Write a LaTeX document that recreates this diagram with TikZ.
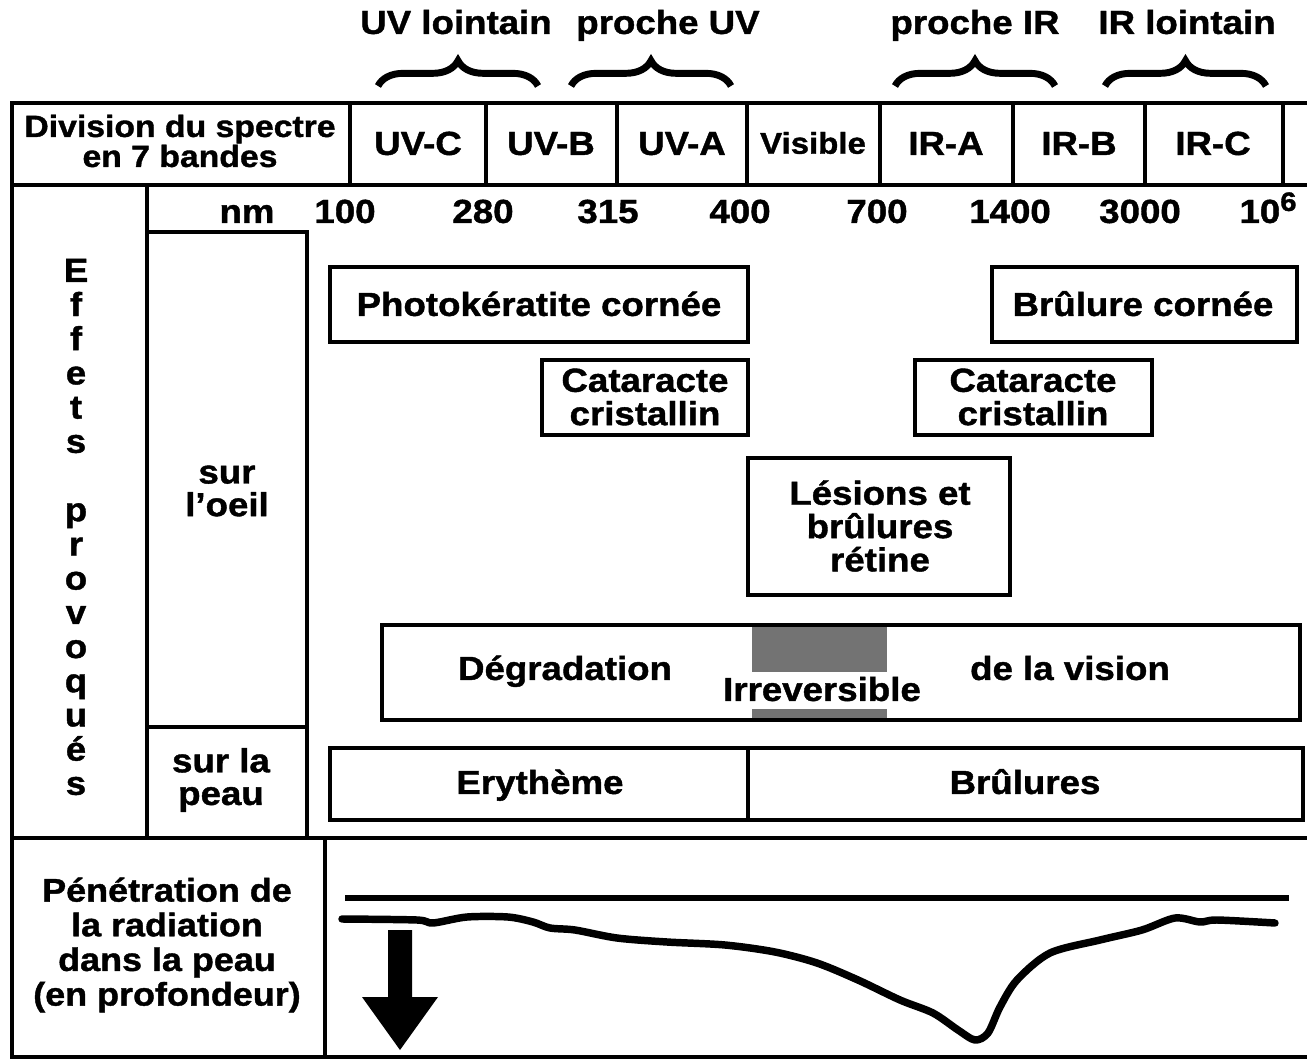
\documentclass[tikz,border=0pt]{standalone}
\usepackage{fontspec}
\setmainfont{Liberation Sans}[BoldFeatures={FakeStretch=1.1,FakeBold=1.2}]
\usetikzlibrary{decorations.pathreplacing}

\tikzset{every picture/.style={line width=2.25pt}}
\tikzset{
  lbls/.style={font=\fontsize{25}{25}\selectfont\bfseries, inner sep=0pt, align=center},
  lbl/.style={lbls, text height=17.9pt, text depth=0pt},
  frame/.style={line width=2.7pt},
  effbox/.style={line width=2.4pt},
  accolade/.style={decorate, decoration={brace, amplitude=19pt}, line width=5.2pt},
  stipple/.style={fill=black!55, draw=none},
}

\begin{document}
\begin{tikzpicture}[x=0.75pt,y=0.75pt,yscale=-1,xscale=1]
\useasboundingbox (0,0) rectangle (1307,1059);

%Braces over the bands
\draw [accolade] (378,86) -- (538,86) ;
\draw [accolade] (571,86) -- (731,86) ;
\draw [accolade] (895,86) -- (1055,86) ;
\draw [accolade] (1105,86) -- (1266,86) ;

%Frame: spectrum row
\draw [frame] (1320,103) -- (12,103) -- (12,1057) -- (1320,1057) ;
\draw [frame] (12,185) -- (1320,185) ;
\draw [frame] (350,103) -- (350,185) ;
\draw [frame] (486,103) -- (486,185) ;
\draw [frame] (617,103) -- (617,185) ;
\draw [frame] (747,103) -- (747,185) ;
\draw [frame] (880,103) -- (880,185) ;
\draw [frame] (1013,103) -- (1013,185) ;
\draw [frame] (1145,103) -- (1145,185) ;
\draw [frame] (1283,103) -- (1283,185) ;
%Frame: effects columns
\draw [frame] (147,185) -- (147,838) ;
\draw [frame] (147,232) -- (307,232) -- (307,838) ;
\draw [frame] (147,727) -- (307,727) ;
\draw [frame, line width=3.6pt] (12,838) -- (1320,838) ;
\draw [frame] (325,838) -- (325,1057) ;

%Effect boxes
\draw [effbox] (330,267) rectangle (748,342) ;
\draw [effbox] (992,267) rectangle (1297,342) ;
\draw [effbox] (542,360) rectangle (748,435) ;
\draw [effbox] (915,360) rectangle (1152,435) ;
\draw [effbox] (748,458) rectangle (1010,595) ;
\draw [stipple] (752,627) rectangle (887,672) ;
\draw [stipple] (752,709) rectangle (887,720) ;
\draw [effbox] (382,625) rectangle (1300,720) ;
\draw [effbox] (330,748) rectangle (1303,820) ;
\draw [effbox] (748,748) -- (748,820) ;

%Penetration in the skin
\draw [line width=4.8pt] (345,898) -- (1289,898) ;
\draw [line width=5.6pt, line join=round, line cap=round] plot [smooth, tension=0.5] coordinates {
  (342,919) (417,920) (433,923) (467,917) (508,917) (533,922) (550,928) (575,930)
  (617,938) (667,942) (725,945) (775,952) (817,963) (858,980) (900,1000) (933,1013)
  (958,1030) (975,1040) (988,1033) (1000,1007) (1017,980) (1050,953) (1100,940)
  (1142,930) (1175,918) (1200,922) (1217,920) (1275,923) } ;
\fill (388,930) -- (412,930) -- (412,997) -- (438,997) -- (400,1050) -- (362,997) -- (388,997) -- cycle ;

% Text Node
\draw (456,22) node (uvl) [lbl] {UV lointain};
% Text Node
\draw (668,22) node (puv) [lbl] {proche UV};
% Text Node
\draw (975,22) node (pir) [lbl] {proche IR};
% Text Node
\draw (1187,22) node (irl) [lbl] {IR lointain};

% Text Node
\draw (180,141) node (div) [lbls, font=\fontsize{23}{22.5}\selectfont\bfseries] {Division du spectre\\en 7 bandes};
% Text Node
\draw (418,143) node (uvc) [lbl] {UV-C};
% Text Node
\draw (551,143) node (uvb) [lbl] {UV-B};
% Text Node
\draw (682,143) node (uva) [lbl] {UV-A};
% Text Node
\draw (813,143) node (vis) [lbl, font=\fontsize{22.5}{22.5}\selectfont\bfseries, text height=16.1pt] {Visible};
% Text Node
\draw (946,143) node (ira) [lbl] {IR-A};
% Text Node
\draw (1079,143) node (irb) [lbl] {IR-B};
% Text Node
\draw (1213,143) node (irc) [lbl] {IR-C};

% Text Node
\draw (276,211) node (nm) [lbl, anchor=east] {nm};
% Text Node
\draw (345,211) node (w100) [lbl] {100};
% Text Node
\draw (483,211) node (w280) [lbl] {280};
% Text Node
\draw (608,211) node (w315) [lbl] {315};
% Text Node
\draw (740,211) node (w400) [lbl] {400};
% Text Node
\draw (877,211) node (w700) [lbl] {700};
% Text Node
\draw (1010,211) node (w1400) [lbl] {1400};
% Text Node
\draw (1140,211) node (w3000) [lbl] {3000};
% Text Node
\draw (1268,211) node (wmax) [lbl] {10\raisebox{0.36em}{\fontsize{20}{20}\selectfont 6}};

% Text Node
\draw (76,527) node (effets) [lbls, font=\fontsize{25}{25.65}\selectfont\bfseries] {E\\f\\f\\e\\t\\s\\ \\p\\r\\o\\v\\o\\q\\u\\é\\s};
% Text Node
\draw (227,491) node (oeil) [lbls, font=\fontsize{25}{24.5}\selectfont\bfseries] {sur\\l’oeil};
% Text Node
\draw (221,780) node (peau) [lbls, font=\fontsize{25}{24.5}\selectfont\bfseries] {sur la\\peau};

% Text Node
\draw (539,304) node (photo) [lbl] {Photokératite cornée};
% Text Node
\draw (1143,304) node (brco) [lbl] {Brûlure cornée};
% Text Node
\draw (645,397) node (cat1) [lbls] {Cataracte\\cristallin};
% Text Node
\draw (1033,397) node (cat2) [lbls] {Cataracte\\cristallin};
% Text Node
\draw (880,526) node (lesion) [lbls] {Lésions et\\brûlures\\rétine};
% Text Node
\draw (565,668) node (degr) [lbl] {Dégradation};
% Text Node
\draw (822,689) node (irrev) [lbl] {Irreversible};
% Text Node
\draw (1070,668) node (vision) [lbl] {de la vision};
% Text Node
\draw (540,782) node (ery) [lbl] {Erythème};
% Text Node
\draw (1025,782) node (brul) [lbl] {Brûlures};

% Text Node
\draw (167,945) node (pene) [lbls, font=\fontsize{24.5}{26}\selectfont\bfseries] {Pénétration de\\la radiation\\dans la peau\\(en profondeur)};

\end{tikzpicture}
\end{document}
